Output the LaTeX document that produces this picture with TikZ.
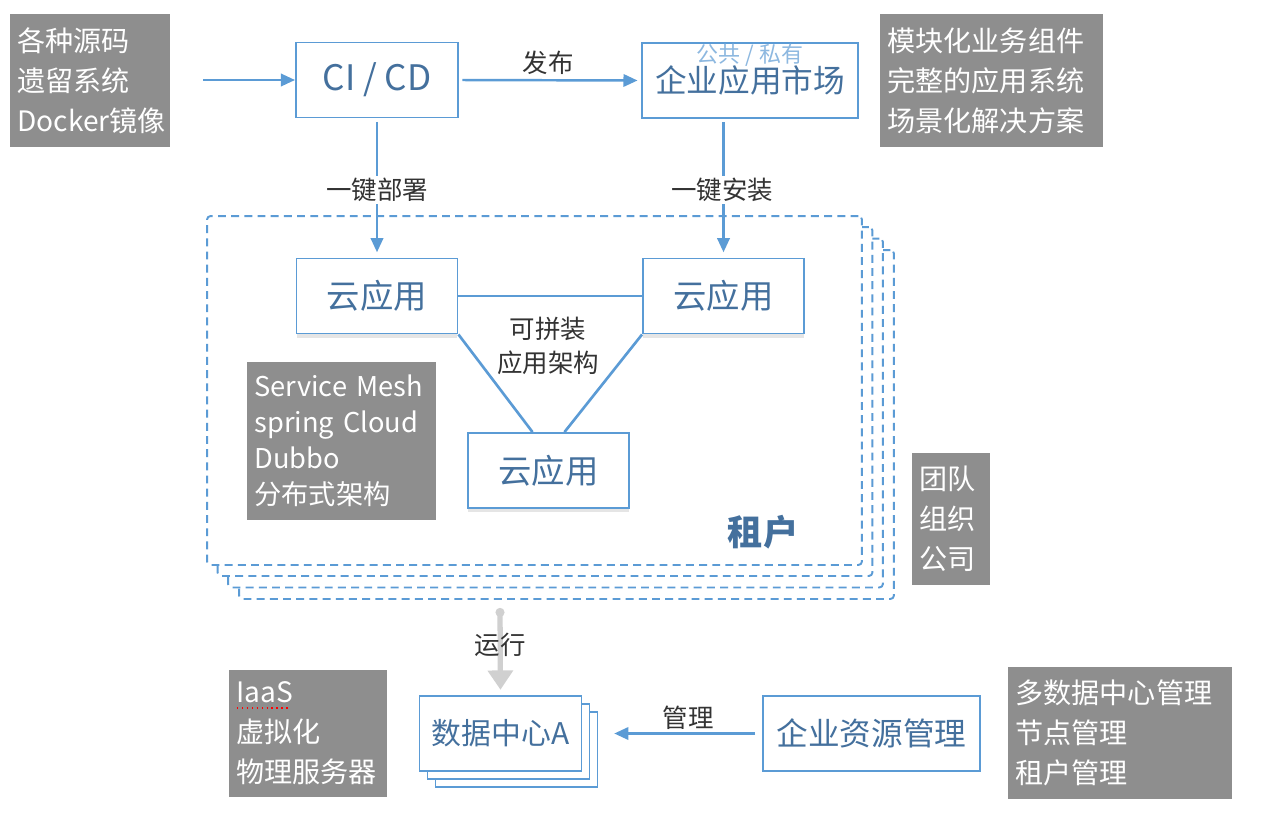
\documentclass[tikz,border=0pt]{standalone}
\usepackage{fontspec}
\setmainfont{Noto Sans CJK SC}
\usepackage{tikz}
\usetikzlibrary{shapes,arrows,arrows.meta,positioning,shadows}
\definecolor{lineblue}{HTML}{5B9BD5}
\definecolor{textblue}{HTML}{44709D}
\definecolor{softblue}{HTML}{8DB8E0}
\definecolor{boxgray}{HTML}{8E8E8E}
\definecolor{rungray}{HTML}{D0D0D0}
\definecolor{labelgray}{HTML}{333333}
\tikzstyle{appbox} = [rectangle, draw=lineblue, line width=1.1pt, fill=white, text=textblue, font=\fontsize{18pt}{20pt}\selectfont, minimum height=1.5cm, inner sep=0pt]
\tikzstyle{cloudbox} = [appbox, font=\fontsize{19pt}{21pt}\selectfont, minimum width=3.22cm, drop shadow={shadow xshift=0pt, shadow yshift=-2.5pt, opacity=0.2}]
\tikzstyle{dcbox} = [appbox, font=\fontsize{17pt}{19pt}\selectfont, minimum width=3.24cm]
\tikzstyle{graybox} = [rectangle, fill=boxgray, text=white, align=left, inner xsep=0.15cm, inner ysep=0pt, font=\fontsize{16pt}{22.8pt}\selectfont]
\tikzstyle{tenant} = [rectangle, draw=lineblue, fill=white, line width=1.1pt, dash pattern=on 4.5pt off 3pt, rounded corners=2pt, minimum width=13.1cm, minimum height=6.98cm]
\tikzstyle{lbl} = [text=labelgray, font=\fontsize{14.5pt}{19pt}\selectfont, inner sep=1pt]
\tikzstyle{line} = [draw, lineblue, line width=1.4pt, -{Triangle[length=8pt,width=7pt]}]
\tikzstyle{edge} = [draw, lineblue, line width=1.5pt]
\tikzstyle{run} = [draw, rungray, line width=3pt, {Circle[length=5pt]}-{Triangle[width=14pt,length=11pt]}]

\begin{document}
\begin{tikzpicture}[x=0.02cm, y=-0.02cm]
	\useasboundingbox (0,0) rectangle (1262,825);

	% top row
	\node [graybox, text width=2.9cm, minimum height=2.66cm] (src) at (90,80.5) {各种源码\\遗留系统\\Docker镜像};
	\coordinate (srcout) at (203,80);
	\node [appbox, minimum width=3.24cm, font=\fontsize{20pt}{22pt}\selectfont] (cicd) at (377,80) {CI / CD};
	\node [appbox, minimum width=4.32cm] (market) at (750,80.5) {企业应用市场};
	\node [text=softblue, font=\fontsize{12.5pt}{14pt}\selectfont, inner sep=0pt] (scope) at (750,55) {公共 / 私有};
	\node [graybox, text width=4.16cm, minimum height=2.66cm] (feat) at (991.5,80.5) {模块化业务组件\\完整的应用系统\\场景化解决方案};

	% tenant
	\node [tenant] (t3) at (566.5,424.5) {};
	\node [tenant] (t2) at (555.5,413) {};
	\node [tenant] (t1) at (545,401.5) {};
	\node [tenant] (t0) at (534.5,390.5) {};

	\node [cloudbox] (app1) at (377,296) {云应用};
	\node [cloudbox] (app2) at (723.5,296) {云应用};
	\node [cloudbox] (app3) at (548.5,470.5) {云应用};
	\node [lbl, align=center] (combo) at (548,346) {可拼装\\应用架构};
	\node [graybox, text width=3.48cm, minimum height=3.16cm, font=\fontsize{15.5pt}{20.5pt}\selectfont] (mesh) at (341.5,441) {Service Mesh\\spring Cloud\\Dubbo\\分布式架构};
	\node [text=textblue, font=\bfseries\fontsize{20pt}{22pt}\selectfont] (tname) at (763,532) {租户};
	\node [graybox, text width=1.26cm, minimum height=2.64cm] (team) at (951,519) {团队\\组织\\公司};

	% bottom row
	\node [graybox, text width=2.86cm, minimum height=2.54cm] (iaas) at (308,733.5) {IaaS\\虚拟化\\物理服务器};
	\draw [red, dotted, line width=0.8pt] (237,708) -- (289,708);
	\node [dcbox] (dc3) at (516.5,749.5) {};
	\node [dcbox] (dc2) at (508.5,741.5) {};
	\node [dcbox] (dc) at (500.5,733.5) {数据中心A};
	\coordinate (runtop) at (500,608);
	\node [appbox, minimum width=4.34cm] (erm) at (871.5,733.5) {企业资源管理};
	\node [graybox, text width=4.18cm, minimum height=2.64cm] (mgmt) at (1120,733) {多数据中心管理\\节点管理\\租户管理};

	\path [line] (srcout) -- (cicd.west);
	\path [line, shorten <=2pt, shorten >=2pt] (cicd.east) -- (market.west);
	\node [lbl] at (548,63) {发布};
	\path [line, shorten <=2pt, shorten >=3pt] (cicd.south) -- (app1.north);
	\path [line, shorten <=2pt, shorten >=3pt] (app2.north |- market.south) -- (app2.north);
	\node [lbl, fill=white] at (377,190) {一键部署};
	\node [lbl, fill=white] at (722,190) {一键安装};

	\path [edge] (app1.east) -- (app2.west);
	\path [edge] (app1.south east) -- ([xshift=-0.32cm]app3.north);
	\path [edge] (app2.south west) -- ([xshift=0.32cm]app3.north);

	\path [run, shorten >=3pt] (runtop) -- (dc.north);
	\node [lbl] at (500,645) {运行};
	\path [line, shorten <=4pt, shorten >=9pt] (erm.west) -- (erm.west -| dc3.east);
	\node [lbl] at (688,718) {管理};
\end{tikzpicture}
\end{document}
